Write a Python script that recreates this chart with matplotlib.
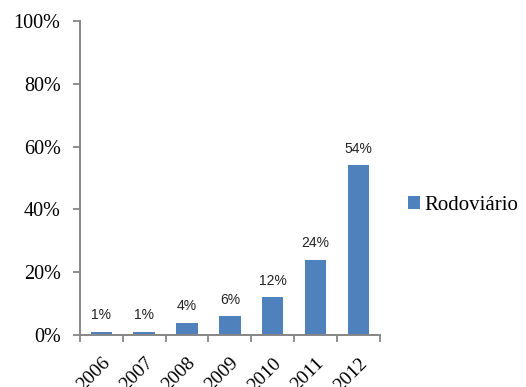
import matplotlib.pyplot as plt
import numpy as np
from matplotlib.ticker import FuncFormatter

years = ["2006", "2007", "2008", "2009", "2010", "2011", "2012"]
rodoviario = [1, 1, 4, 6, 12, 24, 54]

BAR = "#4F81BD"
AXIS = "#868686"
SERIF = "Liberation Serif"

fig = plt.figure(figsize=(5.26, 3.87), dpi=100)
ax = fig.add_axes([0.152, 0.134, 0.570, 0.812])

x = np.arange(len(years))
bars = ax.bar(x, rodoviario, width=0.5, color=BAR, label="Rodoviário", zorder=2)

for xi, v in zip(x, rodoviario):
    ax.annotate(f"{v}%", (xi, v), xytext=(0, 7), textcoords="offset points",
                ha="center", va="bottom", fontsize=10,
                family="Liberation Sans", color="#222222")

ax.set_xlim(-0.5, len(years) - 0.5)
ax.set_ylim(0, 100)
ax.set_yticks(range(0, 101, 20))
ax.yaxis.set_major_formatter(FuncFormatter(lambda v, _: f"{v:.0f}%"))

# category labels at bar centres, tick marks on the category boundaries
ax.set_xticks(x)
ax.set_xticklabels(years, rotation=45, ha="right", va="top",
                   rotation_mode="anchor", fontsize=14, family=SERIF)
ax.set_xticks(np.arange(-0.5, len(years)), minor=True)
ax.tick_params(axis="x", which="major", length=0, pad=14)
ax.tick_params(axis="x", which="minor", length=5, width=1.3, color=AXIS)
ax.tick_params(axis="y", length=5, width=1.3, color=AXIS, labelsize=14.5, pad=9)
for lbl in ax.get_yticklabels():
    lbl.set_family(SERIF)

for side in ("top", "right"):
    ax.spines[side].set_visible(False)
for side in ("left", "bottom"):
    ax.spines[side].set_color(AXIS)
    ax.spines[side].set_linewidth(1.4)

fig.legend(handles=[bars], labels=["Rodoviário"], loc="center left",
           bbox_to_anchor=(0.776, 0.47), frameon=False,
           borderpad=0, borderaxespad=0,
           handlelength=0.55, handleheight=0.55, handletextpad=0.25,
           prop={"family": SERIF, "size": 15})

fig.savefig("out.png", dpi=100)
